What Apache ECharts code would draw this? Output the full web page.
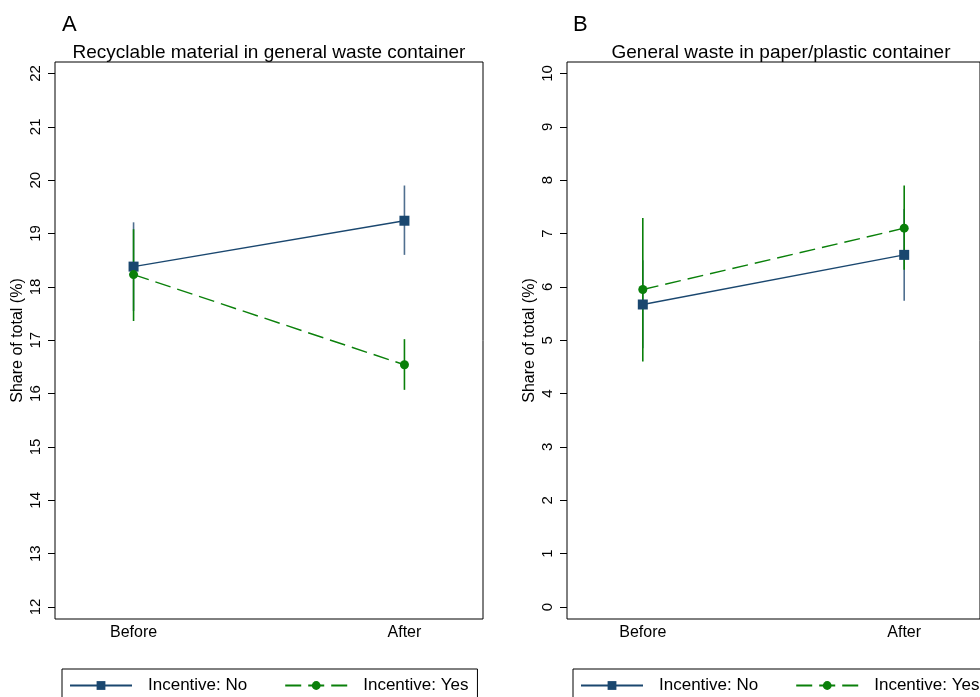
<!DOCTYPE html>
<html>
<head>
<meta charset="utf-8">
<script src="https://cdn.jsdelivr.net/npm/echarts@6/dist/echarts.min.js"></script>
<style>
html,body{margin:0;padding:0;background:#fff;}
#c{width:980px;height:697px;}
</style>
</head>
<body>
<div id="c"></div>
<script>
// ---- data ----
const categories = ['Before', 'After'];
const xPos = [0, 1];
const seriesNames = ['Incentive: No', 'Incentive: Yes'];

// Panel A: Recyclable material in general waste container
const aNoMean = [18.38, 19.24];
const aNoLo   = [17.55, 18.60];
const aNoHi   = [19.21, 19.90];
const aYesMean = [18.23, 16.54];
const aYesLo   = [17.36, 16.07];
const aYesHi   = [19.08, 17.02];

// Panel B: General waste in paper/plastic container
const bNoMean = [5.67, 6.60];
const bNoLo   = [4.85, 5.74];
const bNoHi   = [6.50, 7.46];
const bYesMean = [5.95, 7.10];
const bYesLo   = [4.60, 6.32];
const bYesHi   = [7.29, 7.90];

const aTicks = [12, 13, 14, 15, 16, 17, 18, 19, 20, 21, 22];
const bTicks = [0, 1, 2, 3, 4, 5, 6, 7, 8, 9, 10];

const titles = ['Recyclable material in general waste container', 'General waste in paper/plastic container'];
const letters = ['A', 'B'];

// ---- styles ----
const BLUE = '#1a476f';
const BLUE_BAR = '#4f6f8f';
const GREEN = '#0a800a';
const FONT = '"Liberation Sans", Arial, Helvetica, sans-serif';

function pts(means) { return xPos.map((x, i) => [x, means[i]]); }
function bars(lo, hi) { return xPos.map((x, i) => [x, lo[i], hi[i]]); }

function errSeries(idx, lo, hi, color, z) {
  return {
    type: 'custom', xAxisIndex: idx, yAxisIndex: idx, z: z, silent: true,
    data: bars(lo, hi),
    encode: { x: 0, y: [1, 2] },
    renderItem: function (params, api) {
      const a = api.coord([api.value(0), api.value(1)]);
      const b = api.coord([api.value(0), api.value(2)]);
      return { type: 'line', shape: { x1: a[0], y1: a[1], x2: b[0], y2: b[1] },
               style: { stroke: color, lineWidth: 1.6 } };
    }
  };
}
function noSeries(idx, means) {
  return { name: seriesNames[0], type: 'line', xAxisIndex: idx, yAxisIndex: idx, z: 5,
    data: pts(means), symbol: 'rect', symbolSize: 10, showSymbol: true,
    lineStyle: { color: BLUE, width: 1.4 }, itemStyle: { color: BLUE }, animation: false };
}
function yesSeries(idx, means) {
  return { name: seriesNames[1], type: 'line', xAxisIndex: idx, yAxisIndex: idx, z: 6,
    data: pts(means), symbol: 'circle', symbolSize: 9, showSymbol: true,
    lineStyle: { color: GREEN, width: 1.4, type: [16, 7] }, itemStyle: { color: GREEN }, animation: false };
}

function yAxis(idx, min, max, ticks) {
  return {
    type: 'value', gridIndex: idx, min: min, max: max,
    name: 'Share of total (%)', nameLocation: 'middle', nameGap: 29, nameRotate: 90,
    nameTextStyle: { fontFamily: FONT, fontSize: 16, color: '#000' },
    axisLine: { show: false, onZero: false },
    axisTick: { show: true, length: 7, lineStyle: { color: '#000' }, customValues: ticks },
    axisLabel: { rotate: 90, margin: 12, fontFamily: FONT, fontSize: 15, color: '#000', customValues: ticks },
    splitLine: { show: false }
  };
}
function xAxis(idx) {
  return {
    type: 'value', gridIndex: idx, min: -0.29, max: 1.29,
    axisLine: { show: false, onZero: false }, axisTick: { show: false }, splitLine: { show: false },
    axisLabel: { customValues: xPos, formatter: v => categories[Math.round(v)],
                 fontFamily: FONT, fontSize: 16, color: '#000', margin: 6 }
  };
}
function legend(left, gap) {
  return {
    left: left, top: 669, width: 440, orient: 'horizontal',
    data: seriesNames,
    borderColor: '#000', borderWidth: 1, padding: [8, 9, 8, 7],
    itemWidth: 62, itemHeight: 11, itemGap: gap,
    textStyle: { fontFamily: FONT, fontSize: 17, color: '#000', padding: [0, 0, 0, 11] }
  };
}

const chart = echarts.init(document.getElementById('c'), null, { renderer: 'canvas' });
chart.setOption({
  backgroundColor: '#fff',
  animation: false,
  title: [
    { text: letters[0], left: 57, top: 9, textStyle: { fontFamily: FONT, fontSize: 22, fontWeight: 'normal', color: '#000' } },
    { text: titles[0], left: 264, textAlign: 'center', top: 38, textStyle: { fontFamily: FONT, fontSize: 19, fontWeight: 'normal', color: '#000' } },
    { text: letters[1], left: 568, top: 9, textStyle: { fontFamily: FONT, fontSize: 22, fontWeight: 'normal', color: '#000' } },
    { text: titles[1], left: 776, textAlign: 'center', top: 38, textStyle: { fontFamily: FONT, fontSize: 19, fontWeight: 'normal', color: '#000' } }
  ],
  grid: [
    { left: 55, top: 62, width: 428, height: 557, show: true, borderColor: '#000', borderWidth: 1, backgroundColor: '#fff' },
    { left: 567, top: 62, width: 427, height: 557, show: true, borderColor: '#000', borderWidth: 1, backgroundColor: '#fff' }
  ],
  xAxis: [xAxis(0), xAxis(1)],
  yAxis: [yAxis(0, 11.775, 22.215, aTicks), yAxis(1, -0.225, 10.215, bTicks)],
  legend: [legend(62, 37), legend(573, 37)],
  series: [
    errSeries(0, aNoLo, aNoHi, BLUE_BAR, 2),
    errSeries(0, aYesLo, aYesHi, GREEN, 3),
    noSeries(0, aNoMean),
    yesSeries(0, aYesMean),
    errSeries(1, bNoLo, bNoHi, BLUE_BAR, 2),
    errSeries(1, bYesLo, bYesHi, GREEN, 3),
    noSeries(1, bNoMean),
    yesSeries(1, bYesMean)
  ]
});
</script>
</body>
</html>
